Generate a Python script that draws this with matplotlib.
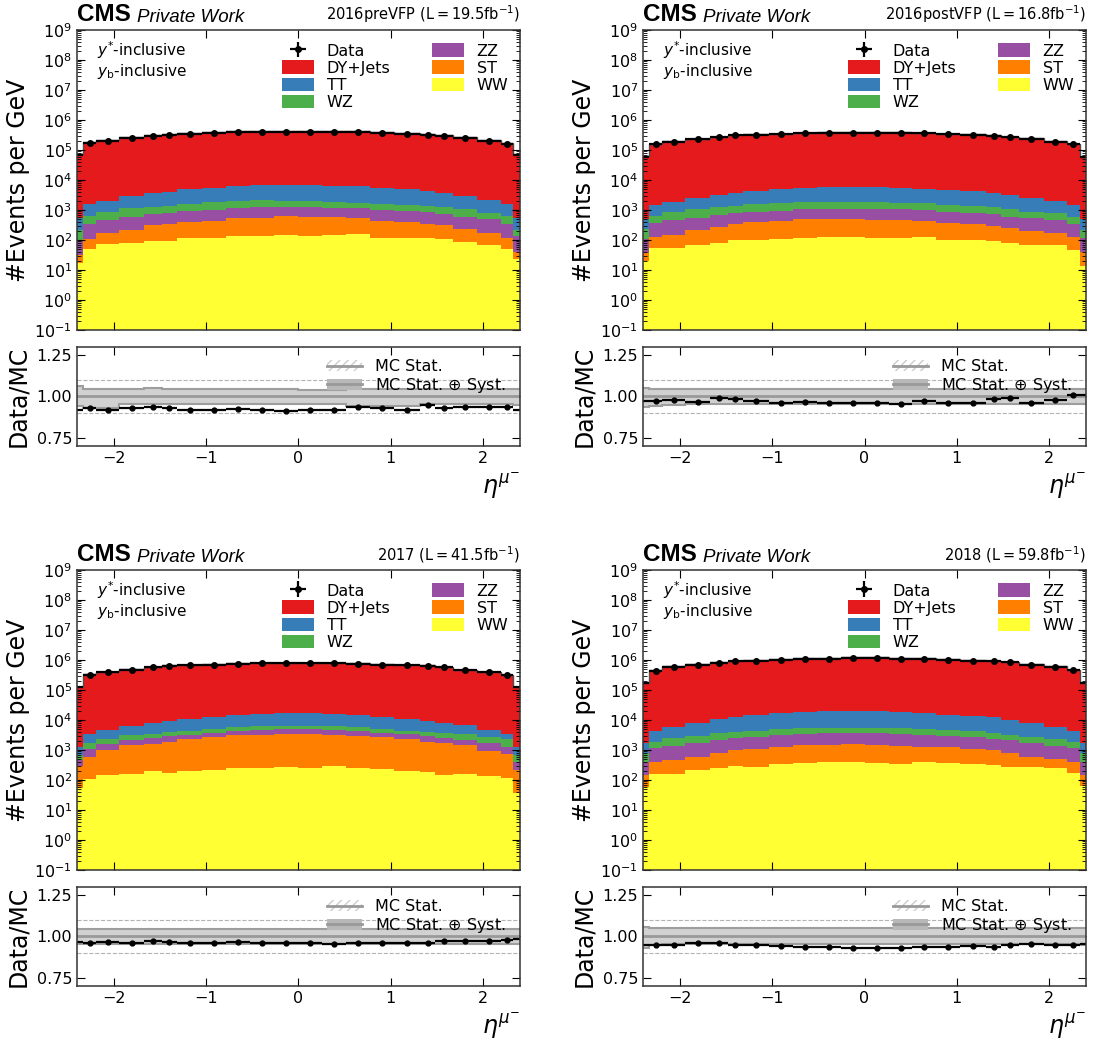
import numpy as np
import matplotlib.pyplot as plt
from matplotlib.patches import Patch
from matplotlib.lines import Line2D
from matplotlib.ticker import LogLocator, NullFormatter, FixedLocator

# eta bin edges of the muon
eta_edges = [-2.4, -2.33, -2.19, -1.94, -1.67, -1.48, -1.32, -1.04, -0.78, -0.52, -0.26, 0.0,
             0.26, 0.52, 0.78, 1.04, 1.32, 1.48, 1.67, 1.94, 2.19, 2.33, 2.4]

# all stack values are log10(events per GeV) of the top of each stacked layer
# ---- 2016preVFP
pre_data = [4.83, 5.22, 5.30, 5.39, 5.48, 5.51, 5.53, 5.56, 5.59, 5.60, 5.60,
            5.60, 5.60, 5.60, 5.56, 5.52, 5.50, 5.47, 5.39, 5.30, 5.20, 4.83]
pre_ratio = [0.920, 0.930, 0.920, 0.928, 0.936, 0.928, 0.918, 0.918, 0.924, 0.918, 0.910,
             0.916, 0.918, 0.936, 0.930, 0.918, 0.950, 0.928, 0.938, 0.934, 0.936, 0.918]
pre_tt = [2.72, 3.20, 3.30, 3.47, 3.58, 3.61, 3.69, 3.74, 3.80, 3.83, 3.83,
          3.83, 3.81, 3.81, 3.74, 3.70, 3.64, 3.58, 3.47, 3.33, 3.20, 2.72]
pre_wz = [2.33, 2.81, 2.94, 3.06, 3.11, 3.14, 3.20, 3.28, 3.31, 3.33, 3.31,
          3.30, 3.28, 3.22, 3.19, 3.17, 3.13, 3.09, 3.02, 2.91, 2.81, 2.33]
pre_zz = [2.00, 2.53, 2.67, 2.76, 2.87, 2.89, 2.98, 3.00, 3.06, 3.09, 3.09,
          3.09, 3.08, 3.06, 3.00, 2.98, 2.92, 2.87, 2.76, 2.69, 2.52, 2.13]
pre_st = [1.50, 2.03, 2.22, 2.33, 2.50, 2.53, 2.61, 2.63, 2.72, 2.74, 2.80,
          2.78, 2.76, 2.72, 2.63, 2.61, 2.53, 2.50, 2.36, 2.22, 2.06, 1.59]
pre_ww = [1.24, 1.70, 1.87, 1.89, 1.97, 1.98, 2.08, 2.08, 2.13, 2.13, 2.17,
          2.13, 2.17, 2.20, 2.08, 2.08, 2.06, 2.02, 1.94, 1.83, 1.70, 1.36]
pre_up = [1.065, 1.045, 1.045, 1.045, 1.052, 1.045, 1.045, 1.045, 1.045, 1.045, 1.045,
          1.042, 1.042, 1.045, 1.045, 1.045, 1.045, 1.045, 1.045, 1.045, 1.045, 1.048]
pre_dn = [0.940, 0.930, 0.930, 0.955, 0.955, 0.956, 0.956, 0.956, 0.956, 0.956, 0.956,
          0.956, 0.956, 0.944, 0.944, 0.944, 0.955, 0.955, 0.955, 0.955, 0.955, 0.950]

# ---- 2016postVFP
post_data = [4.78, 5.20, 5.28, 5.36, 5.44, 5.49, 5.51, 5.53, 5.56, 5.57, 5.57,
             5.57, 5.57, 5.56, 5.53, 5.51, 5.48, 5.44, 5.37, 5.28, 5.19, 4.78]
post_ratio = [0.974, 0.970, 0.976, 0.966, 0.988, 0.986, 0.974, 0.962, 0.964, 0.958, 0.958,
              0.962, 0.954, 0.972, 0.958, 0.960, 0.984, 0.990, 0.962, 0.980, 1.008, 1.010]
post_tt = [2.69, 3.17, 3.28, 3.41, 3.50, 3.58, 3.64, 3.70, 3.74, 3.78, 3.78,
           3.78, 3.74, 3.70, 3.67, 3.63, 3.58, 3.50, 3.41, 3.30, 3.17, 2.69]
post_wz = [2.36, 2.81, 2.92, 3.02, 3.09, 3.14, 3.19, 3.22, 3.28, 3.28, 3.28,
           3.26, 3.24, 3.22, 3.17, 3.13, 3.09, 3.03, 2.94, 2.89, 2.78, 2.33]
post_zz = [2.02, 2.58, 2.67, 2.74, 2.83, 2.89, 2.94, 2.98, 3.02, 3.03, 3.03,
           3.03, 3.02, 3.00, 2.94, 2.91, 2.86, 2.78, 2.72, 2.67, 2.53, 2.06]
post_st = [1.58, 2.09, 2.17, 2.33, 2.42, 2.53, 2.61, 2.64, 2.69, 2.70, 2.70,
           2.67, 2.67, 2.64, 2.56, 2.53, 2.47, 2.39, 2.31, 2.22, 2.09, 1.61]
post_ww = [1.30, 1.72, 1.74, 1.83, 1.89, 2.00, 2.00, 2.03, 2.06, 2.09, 2.09,
           2.08, 2.08, 2.09, 2.00, 2.00, 1.98, 1.91, 1.83, 1.83, 1.67, 1.14]
post_up = [1.050, 1.045, 1.045, 1.045, 1.045, 1.045, 1.045, 1.045, 1.045, 1.045, 1.045,
           1.045, 1.045, 1.045, 1.045, 1.045, 1.045, 1.045, 1.045, 1.045, 1.045, 1.045]
post_dn = [0.935, 0.945, 0.950, 0.955, 0.955, 0.955, 0.955, 0.955, 0.955, 0.955, 0.955,
           0.955, 0.955, 0.955, 0.955, 0.955, 0.955, 0.955, 0.955, 0.955, 0.955, 0.955]

# ---- 2017
y17_data = [5.09, 5.50, 5.59, 5.67, 5.76, 5.80, 5.82, 5.84, 5.88, 5.89, 5.89,
            5.89, 5.89, 5.88, 5.84, 5.82, 5.80, 5.76, 5.67, 5.59, 5.50, 5.09]
y17_ratio = [0.965, 0.962, 0.965, 0.962, 0.972, 0.965, 0.962, 0.962, 0.965, 0.960, 0.958,
             0.958, 0.955, 0.958, 0.960, 0.962, 0.960, 0.972, 0.975, 0.972, 0.978, 0.985]
y17_tt = [3.09, 3.53, 3.67, 3.80, 3.91, 3.98, 4.02, 4.09, 4.16, 4.20, 4.22,
          4.22, 4.20, 4.17, 4.11, 4.02, 3.98, 3.91, 3.82, 3.67, 3.53, 3.09]
y17_wz = [2.83, 3.22, 3.37, 3.50, 3.53, 3.61, 3.64, 3.70, 3.78, 3.80, 3.81,
          3.81, 3.80, 3.78, 3.70, 3.64, 3.61, 3.56, 3.53, 3.42, 3.37, 2.83]
y17_zz = [2.67, 3.02, 3.19, 3.33, 3.39, 3.47, 3.50, 3.58, 3.64, 3.67, 3.69,
          3.69, 3.67, 3.64, 3.58, 3.53, 3.47, 3.39, 3.33, 3.22, 3.09, 2.61]
y17_st = [2.47, 2.78, 3.00, 3.17, 3.20, 3.28, 3.37, 3.44, 3.50, 3.50, 3.53,
          3.53, 3.50, 3.47, 3.42, 3.37, 3.28, 3.22, 3.17, 2.98, 2.87, 2.33]
y17_ww = [1.72, 2.02, 2.17, 2.20, 2.31, 2.24, 2.31, 2.33, 2.41, 2.41, 2.44,
          2.41, 2.48, 2.41, 2.38, 2.31, 2.28, 2.17, 2.19, 2.13, 2.08, 1.58]
y17_up = [1.045, 1.045, 1.045, 1.045, 1.045, 1.045, 1.045, 1.045, 1.045, 1.045, 1.045,
          1.045, 1.045, 1.045, 1.045, 1.045, 1.045, 1.045, 1.045, 1.045, 1.045, 1.045]
y17_dn = [0.955, 0.955, 0.955, 0.955, 0.955, 0.955, 0.955, 0.955, 0.955, 0.955, 0.955,
          0.955, 0.955, 0.955, 0.955, 0.955, 0.955, 0.955, 0.955, 0.955, 0.955, 0.955]

# ---- 2018
y18_data = [5.22, 5.64, 5.76, 5.84, 5.91, 5.95, 5.98, 6.01, 6.03, 6.04, 6.05,
            6.05, 6.04, 6.03, 6.01, 5.98, 5.95, 5.92, 5.84, 5.76, 5.65, 5.22]
y18_ratio = [0.945, 0.950, 0.945, 0.960, 0.958, 0.948, 0.945, 0.940, 0.937, 0.935, 0.930,
             0.928, 0.932, 0.935, 0.935, 0.940, 0.937, 0.950, 0.955, 0.950, 0.950, 0.955]
y18_tt = [3.22, 3.63, 3.78, 3.91, 4.02, 4.09, 4.17, 4.22, 4.28, 4.31, 4.31,
          4.31, 4.28, 4.24, 4.17, 4.13, 4.09, 4.00, 3.91, 3.78, 3.64, 3.22]
y18_wz = [2.89, 3.28, 3.39, 3.47, 3.58, 3.61, 3.64, 3.70, 3.72, 3.74, 3.74,
          3.74, 3.72, 3.70, 3.67, 3.63, 3.58, 3.50, 3.44, 3.36, 3.28, 2.91]
y18_zz = [2.61, 3.06, 3.13, 3.22, 3.33, 3.39, 3.44, 3.49, 3.53, 3.56, 3.56,
          3.56, 3.53, 3.50, 3.47, 3.42, 3.37, 3.33, 3.24, 3.13, 3.06, 2.61]
y18_st = [2.17, 2.61, 2.67, 2.78, 2.89, 3.00, 3.03, 3.11, 3.17, 3.17, 3.20,
          3.17, 3.13, 3.11, 3.09, 3.02, 3.00, 2.89, 2.78, 2.69, 2.61, 2.17]
y18_ww = [1.78, 2.20, 2.20, 2.33, 2.39, 2.47, 2.44, 2.53, 2.56, 2.61, 2.59,
          2.56, 2.53, 2.61, 2.58, 2.53, 2.50, 2.42, 2.44, 2.39, 2.22, 1.80]
y18_up = [1.055, 1.050, 1.048, 1.048, 1.048, 1.048, 1.048, 1.048, 1.048, 1.048, 1.048,
          1.048, 1.048, 1.048, 1.048, 1.048, 1.048, 1.048, 1.048, 1.048, 1.048, 1.050]
y18_dn = [0.930, 0.945, 0.952, 0.952, 0.952, 0.952, 0.952, 0.952, 0.952, 0.952, 0.952,
          0.952, 0.952, 0.952, 0.952, 0.952, 0.952, 0.952, 0.952, 0.952, 0.952, 0.950]

eras = ['2016preVFP', '2016postVFP', '2017', '2018']
lumis = ['19.5', '16.8', '41.5', '59.8']

colors = {'DY+Jets': '#e41a1c', 'TT': '#377eb8', 'WZ': '#4daf4a',
          'ZZ': '#984ea3', 'ST': '#ff7f00', 'WW': '#ffff33'}


def draw_panel(ax, rax, era, lumi, d, r, tt, wz, zz, st, ww, up, dn):
    edges = np.array(eta_edges)
    cen = 0.5 * (edges[1:] + edges[:-1])
    hw = 0.5 * np.diff(edges)
    data = 10 ** np.array(d)
    mc = data / np.array(r)

    layers = [('DY+Jets', mc), ('TT', 10 ** np.array(tt)), ('WZ', 10 ** np.array(wz)),
              ('ZZ', 10 ** np.array(zz)), ('ST', 10 ** np.array(st)), ('WW', 10 ** np.array(ww))]
    handles = []
    for name, vals in layers:
        ax.stairs(vals, edges, baseline=1e-3, fill=True, color=colors[name])
        handles.append(Patch(facecolor=colors[name], label=name))
    ax.stairs(mc, edges, baseline=None, color='0.3', lw=1)

    inner = slice(1, -1)
    eb = ax.errorbar(cen[inner], data[inner], xerr=hw[inner], yerr=np.sqrt(data[inner]),
                     fmt='o', color='k', ms=4, elinewidth=1.6, capsize=0, label='Data')
    ax.errorbar(cen[[0, -1]], data[[0, -1]], xerr=hw[[0, -1]], fmt='none', color='k', elinewidth=1.6)

    ax.set_yscale('log')
    ax.set_ylim(1e-1, 1e9)
    ax.set_xlim(-2.4, 2.4)
    ax.yaxis.set_major_locator(FixedLocator([10.0 ** k for k in range(-1, 10)]))
    ax.yaxis.set_minor_locator(LogLocator(base=10, subs=np.arange(2, 10), numticks=100))
    ax.yaxis.set_minor_formatter(NullFormatter())
    ax.set_xticks([-2, -1, 0, 1, 2])
    ax.tick_params(labelbottom=False)
    ax.set_ylabel('#Events per GeV', fontsize=17)
    ax.yaxis.set_label_coords(-0.105, 0.5)

    leg_h = [eb] + handles
    leg_l = ['Data'] + [h.get_label() for h in handles]
    ax.legend(leg_h, leg_l, ncol=2, loc='upper left', bbox_to_anchor=(0.43, 1.003),
              frameon=False, fontsize=11.5, handlelength=2.0, handleheight=0.9,
              labelspacing=0.12, columnspacing=2.6, handletextpad=0.8)
    ax.text(0.045, 0.932, r'$y^{*}$-inclusive', transform=ax.transAxes, fontsize=11, va='center')
    ax.text(0.045, 0.862, r'$y_{\rm b}$-inclusive', transform=ax.transAxes, fontsize=11, va='center')

    ax.text(0.0, 1.012, 'CMS', transform=ax.transAxes, fontsize=17.5, fontweight='bold',
            family='Liberation Sans', va='bottom')
    ax.text(0.135, 1.012, 'Private Work', transform=ax.transAxes, fontsize=13.5, style='italic',
            family='Liberation Sans', va='bottom')
    ax.text(1.0, 1.015, era + r' $(\mathrm{L=' + lumi + r'fb^{-1}})$', transform=ax.transAxes,
            fontsize=10.5, ha='right', va='bottom')

    # ratio panel
    rax.stairs(np.array(up), edges, baseline=np.array(dn), fill=True, color='0.82', lw=0)
    rax.stairs(np.array(up), edges, baseline=None, color='0.62', lw=1.5)
    rax.stairs(np.array(dn), edges, baseline=None, color='0.62', lw=1.5)
    rax.axhline(1.0, color='0.6', lw=2)
    rax.axhline(1.1, color='0.7', lw=0.8, ls='--')
    rax.axhline(0.9, color='0.7', lw=0.8, ls='--')
    rr = np.array(r)
    rax.errorbar(cen[inner], rr[inner], xerr=hw[inner], yerr=0.002, fmt='o', color='k',
                 ms=3.5, elinewidth=1.6, capsize=0)
    rax.errorbar(cen[[0, -1]], rr[[0, -1]], xerr=hw[[0, -1]], fmt='none', color='k', elinewidth=1.6)
    rax.set_xlim(-2.4, 2.4)
    rax.set_ylim(0.7, 1.3)
    rax.set_yticks([0.75, 1.0, 1.25])
    rax.set_yticklabels(['0.75', '1.00', '1.25'])
    rax.set_xticks([-2, -1, 0, 1, 2])
    rax.set_ylabel('Data/MC', fontsize=17)
    rax.yaxis.set_label_coords(-0.105, 0.5)
    rax.set_xlabel(r'$\eta^{\mu^{-}}$', fontsize=17, loc='right')

    stat_h = (Patch(facecolor='none', edgecolor='0.8', hatch='////', lw=0),
              Line2D([], [], color='0.6', lw=2))
    syst_h = (Patch(facecolor='0.72', edgecolor='none'), Line2D([], [], color='0.6', lw=2))
    rax.legend([stat_h, syst_h], ['MC Stat.', r'MC Stat. $\oplus$ Syst.'], loc='upper right',
               bbox_to_anchor=(1.0, 1.02), frameon=False, fontsize=11.5, handlelength=2.2,
               labelspacing=0.1, handletextpad=0.8)

    for a in (ax, rax):
        a.tick_params(which='both', direction='in', top=True, right=True, labelsize=11.5)
        a.tick_params(which='major', length=6)
        a.tick_params(which='minor', length=3)
        for s in a.spines.values():
            s.set_linewidth(1.1)
            s.set_color('0.2')


fig = plt.figure(figsize=(10.93, 10.40), dpi=100)
panels = [
    (0.0704, 0.6827, pre_data, pre_ratio, pre_tt, pre_wz, pre_zz, pre_st, pre_ww, pre_up, pre_dn),
    (0.5883, 0.6827, post_data, post_ratio, post_tt, post_wz, post_zz, post_st, post_ww, post_up, post_dn),
    (0.0704, 0.1635, y17_data, y17_ratio, y17_tt, y17_wz, y17_zz, y17_st, y17_ww, y17_up, y17_dn),
    (0.5883, 0.1635, y18_data, y18_ratio, y18_tt, y18_wz, y18_zz, y18_st, y18_ww, y18_up, y18_dn),
]
for i, p in enumerate(panels):
    x0, y0 = p[0], p[1]
    ax = fig.add_axes([x0, y0, 0.4053, 0.2885])
    rax = fig.add_axes([x0, y0 - 0.1115, 0.4053, 0.0952])
    draw_panel(ax, rax, eras[i], lumis[i], *p[2:])

fig.savefig('out.png', dpi=100)
